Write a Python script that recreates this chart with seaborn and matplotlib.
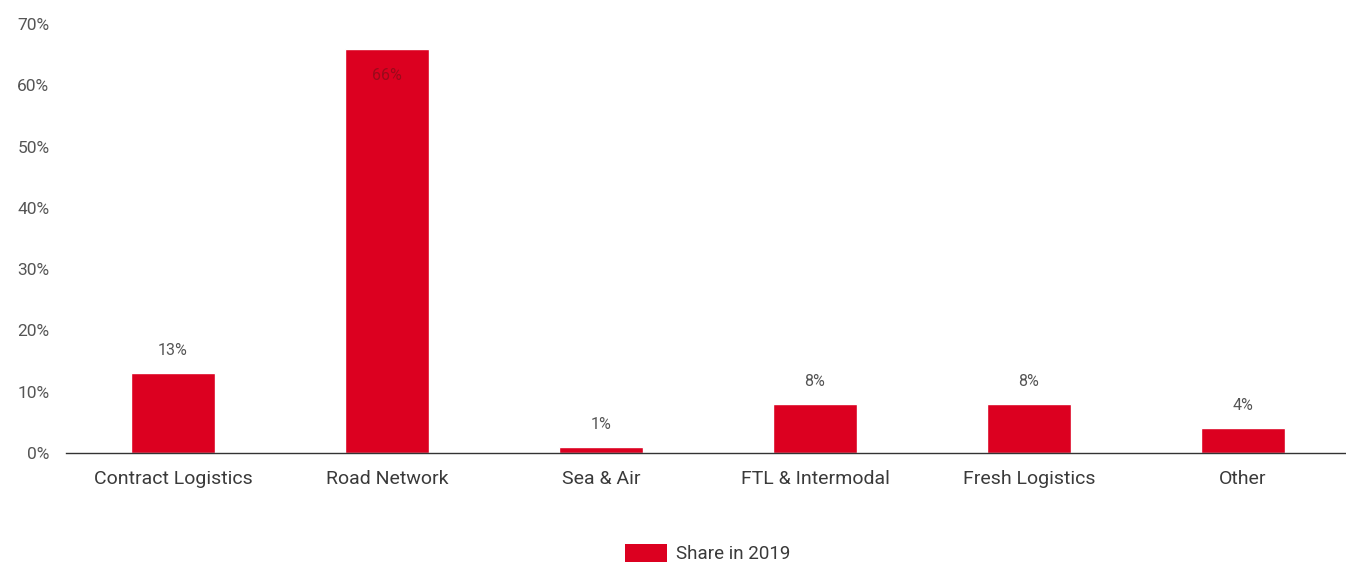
import matplotlib
matplotlib.use("Agg")
import matplotlib.pyplot as plt
import seaborn as sns
from matplotlib.patches import Patch

categories = ["Contract Logistics", "Road Network", "Sea & Air", "FTL & Intermodal", "Fresh Logistics", "Other"]
values = [13, 66, 1, 8, 8, 4]
value_labels = ["13%", "66%", "1%", "8%", "8%", "4%"]
yticks = [0, 10, 20, 30, 40, 50, 60, 70]
ytick_labels = ["0%", "10%", "20%", "30%", "40%", "50%", "60%", "70%"]
series_name = "Share in 2019"

sns.set_theme(style="white")
plt.rcParams["font.family"] = ["Roboto", "DejaVu Sans"]

RED = "#dc0020"
TXT = "#555555"

fig = plt.figure(figsize=(13.46, 5.65), dpi=100)
ax = fig.add_axes([66 / 1346, 1 - 453 / 565, 1284 / 1346, (453 - 24) / 565])

sns.barplot(x=categories, y=values, color=RED, width=0.39, saturation=1, ax=ax)

ax.set_ylim(0, 70)
ax.set_xlim(-0.5, len(categories) - 0.5)
ax.set_yticks(yticks)
ax.set_yticklabels(ytick_labels)
ax.tick_params(axis="y", length=0, pad=12, labelsize=12.5, labelcolor=TXT)
ax.tick_params(axis="x", length=0, pad=12, labelsize=14, labelcolor="#3a3a3a")
ax.set_xlabel("")
ax.set_ylabel("")
for s in ["top", "right", "left"]:
    ax.spines[s].set_visible(False)
ax.spines["bottom"].set_color("#333333")
ax.spines["bottom"].set_linewidth(1.0)
ax.grid(False)

for i, (v, lab) in enumerate(zip(values, value_labels)):
    if v > 50:
        ax.annotate(lab, (i, v), xytext=(0, -25), textcoords="offset points",
                    ha="center", va="bottom", fontsize=11.5, color="#9a0a1a")
    else:
        ax.annotate(lab, (i, v), xytext=(0, 11), textcoords="offset points",
                    ha="center", va="bottom", fontsize=11.5, color=TXT)

handle = Patch(facecolor=RED, edgecolor="none")
fig.legend([handle], [series_name], loc="center", bbox_to_anchor=(0.526, 0.02),
           frameon=False, fontsize=13.5, handlelength=2.2, handleheight=1.1,
           labelcolor="#3a3a3a", handletextpad=0.5)

fig.savefig("out.png", dpi=100)
